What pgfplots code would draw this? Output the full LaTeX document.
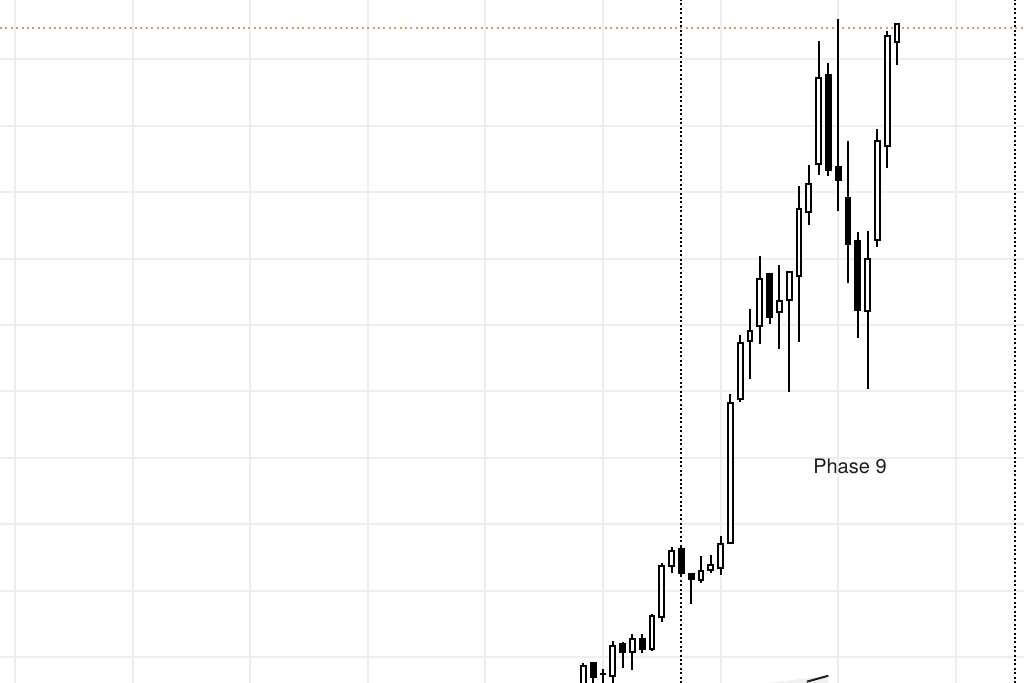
\documentclass[border=0pt]{standalone}
\usepackage{fontspec}
\setmainfont{TeX Gyre Heros}
\usepackage{pgfplots}
\usepackage{pgfplotstable}
\pgfplotsset{compat=1.18}

\definecolor{gridgray}{RGB}{238,238,238}
\definecolor{levelorange}{RGB}{238,150,70}
\definecolor{ink}{RGB}{30,30,30}

% candle index, OHLC
\pgfplotstableread{
k open high low close
58 5.50 9.14 5.00 8.69
59 9.05 9.20 5.50 7.04
60 7.40 8.20 5.80 7.50
61 7.14 12.45 5.80 11.70
62 11.91 12.30 8.39 10.75
63 10.75 13.46 8.04 12.67
64 12.76 13.46 10.56 11.20
65 11.16 16.43 10.95 16.22
66 16.07 24.11 15.32 23.75
67 23.70 26.61 22.61 26.01
68 26.27 26.87 22.00 22.61
69 22.50 22.70 17.98 21.70
70 21.60 25.21 21.19 22.95
71 23.10 25.36 22.70 23.86
72 23.36 28.22 22.35 26.97
73 27.21 49.56 27.06 48.21
74 48.81 58.49 48.36 57.33
75 57.55 62.36 51.87 59.14
76 59.89 70.44 57.09 66.93
77 67.68 67.79 60.11 61.20
78 61.96 69.04 56.43 63.66
79 63.81 68.13 49.86 68.03
80 67.42 80.93 57.48 77.47
81 77.02 84.05 75.06 81.23
82 84.25 102.82 82.59 97.24
83 97.70 99.41 82.49 83.30
84 83.84 106.04 77.17 81.84
85 79.08 87.76 66.28 72.15
86 72.65 74.05 58.09 62.26
87 62.06 74.20 50.32 69.94
88 72.75 89.52 71.79 87.71
89 87.02 104.32 83.69 103.48
90 102.58 105.29 99.16 105.29
}\candles

\pgfplotsset{chartframe/.style={
  scale only axis, width=512pt, height=341.5pt,
  xmin=-1.531, xmax=102.96, ymin=6.084, ymax=108.95,
}}

\begin{document}
\begin{tikzpicture}
\begin{axis}[chartframe, name=ax,
  axis line style={draw=none}, tick style={draw=none},
  xtick={0,12,...,96}, ytick={10,20,...,100},
  xticklabels={}, yticklabels={},
  grid=major, major grid style={gridgray, line width=1pt},
]
  % level line
  \addplot[levelorange, line width=1pt, dash pattern=on 1pt off 1.7pt]
    coordinates {(-1.531,104.77) (102.96,104.77)};
  % phase separators
  \addplot[black, line width=1pt, dash pattern=on 1pt off 1.2pt]
    coordinates {(68,6.084) (68,108.95)};
  \addplot[black, line width=1pt, dash pattern=on 1pt off 1.2pt]
    coordinates {(102,6.084) (102,108.95)};
  % bottom trend line
  \addplot[fill=gray!12, draw=none]
    coordinates {(75.7,5.9) (83.0,7.18) (83.0,5.9) (75.7,5.9)};
  \addplot[ink, line width=1pt] coordinates {(80.8,6.28) (83.0,7.18)};
  % wicks
  \addplot[draw=none, mark=none,
    error bars/.cd, y dir=both, y explicit, error mark=none,
    error bar style={draw=black, line width=1pt}]
    table[x=k, y expr={(\thisrow{high}+\thisrow{low})/2},
          y error expr={(\thisrow{high}-\thisrow{low})/2}] {\candles};
  \node[font=\fontsize{10}{12}\selectfont, text=ink, inner sep=0pt]
    at (axis cs:85.2,38.77) {Phase 9};
\end{axis}
\begin{axis}[chartframe, hide axis, ybar stacked, bar width=0.48]
  \addplot[draw=none, fill=none]
    table[x=k, y expr={min(\thisrow{open},\thisrow{close})}] {\candles};
  \addplot[draw=black, fill=white, line width=1pt]
    table[x=k, y expr={max(\thisrow{close}-\thisrow{open},0)}] {\candles};
  \addplot[draw=black, fill=black, line width=1pt]
    table[x=k, y expr={max(\thisrow{open}-\thisrow{close},0)}] {\candles};
\end{axis}
\pgfresetboundingbox
\path[use as bounding box] (ax.south west) rectangle (ax.north east);
\end{tikzpicture}
\end{document}
